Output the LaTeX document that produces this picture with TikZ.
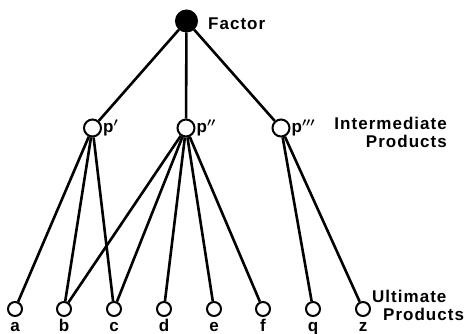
\documentclass[tikz,border=0pt]{standalone}
\usepackage{amsmath}
\usepackage{fontspec}
\setsansfont{Liberation Sans}
\usetikzlibrary{positioning}

\begin{document}
\begin{tikzpicture}[
    x=1pt, y=-1pt,
    topnode/.style={circle, draw, fill=black, line width=2pt, minimum size=21pt, inner sep=0pt},
    midnode/.style={circle, draw, fill=white, line width=2pt, minimum size=17pt, inner sep=0pt},
    endnode/.style={circle, draw, fill=white, line width=2pt, minimum size=14pt, inner sep=0pt},
    edge/.style={line width=2.6pt},
    lbl/.style={font=\sffamily\bfseries\fontsize{17}{18}\selectfont\addfontfeature{LetterSpace=6}, inner sep=0pt}
]
\useasboundingbox (0,0) rectangle (466,334);

\node[topnode] (fac) at (186.5,21) {};
\node[midnode] (p1) at (92.5,128) {};
\node[midnode] (p2) at (186,128) {};
\node[midnode] (p3) at (281,128) {};

\foreach \n/\x in {a/15,b/64,c/114,d/164,e/214,f/263,q/313,z/363}{
  \node[endnode] (\n) at (\x,309) {};
  \node[lbl, anchor=base] (lbl-\n) at (\x,331) {\n};
}

% factor to intermediate products
\foreach \p in {p1,p2,p3}
  \draw[edge] (fac) -- (\p);

% intermediate to ultimate products
\foreach \n in {a,b,c}
  \draw[edge] (p1) -- (\n);
\foreach \n in {b,c,d,e,f}
  \draw[edge] (p2) -- (\n);
\foreach \n in {q,z}
  \draw[edge] (p3) -- (\n);

\node[lbl, anchor=base west] (fac-lbl) at (208,30) {Factor};
\node[lbl, right=1pt of p1] (p1-lbl) {p$^{\boldsymbol{\prime}}$};
\node[lbl, right=1pt of p2] (p2-lbl) {p$^{\boldsymbol{\prime\prime}}$};
\node[lbl, right=1pt of p3] (p3-lbl) {p$^{\boldsymbol{\prime\prime\prime}}$};

\node[lbl, align=right, anchor=north east] (inter-lbl) at (447,117) {Intermediate\\Products};
\node[lbl, align=left, anchor=north west] (ult-lbl) at (372,290) {Ultimate\\\hspace{11pt}Products};
\end{tikzpicture}
\end{document}
